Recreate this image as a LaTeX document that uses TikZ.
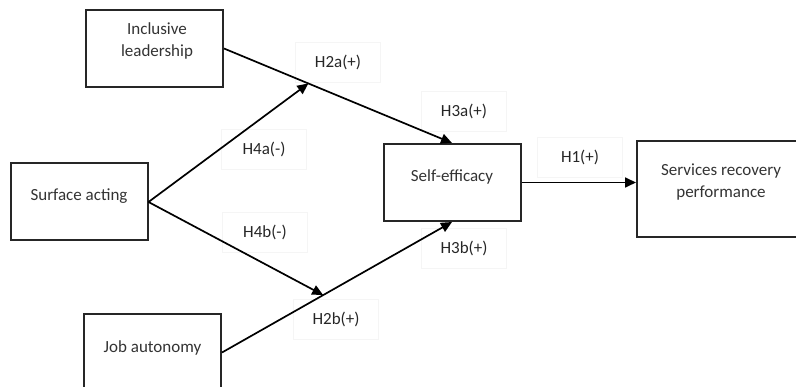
\documentclass[tikz,border=0pt]{standalone}
\usepackage{fontspec}
\setmainfont{Carlito}
\usetikzlibrary{arrows.meta,calc}
\begin{document}
\begin{tikzpicture}[x=1pt,y=-1pt,
        box/.style={draw=black!85,line width=2pt,minimum width=137pt,minimum height=77pt,inner sep=0pt},
        boxtext/.style={align=center,text=black!80,font=\fontsize{17}{22}\selectfont,inner sep=0pt},
        hyp/.style={draw=black!4,minimum width=85pt,minimum height=40pt,text=black!85,font=\fontsize{17}{22}\selectfont},
        arr/.style={line width=1.7pt,-{Triangle[length=11pt,width=10pt]}}]
                \useasboundingbox (0,0) rectangle (796,387);
                \clip (0,0) rectangle (796,387);
                % boxes
                \node[box] (incl) at (154.5,48.5) {};
                \node[box] (surf) at (79,202) {};
                \node[box] (job) at (152.5,352.5) {};
                \node[box] (self) at (452,182.5) {};
                \node[box,minimum width=168pt,minimum height=96pt] (serv) at (721,189) {};
                \node[boxtext] (incltxt) at (157,41) {Inclusive\\leadership};
                \node[boxtext] (surftxt) at (79,196) {Surface acting};
                \node[boxtext] (jobtxt) at (152.5,348) {Job autonomy};
                \node[boxtext] (selftxt) at (452,177) {Self-efficacy};
                \node[boxtext] (servtxt) at (721,182) {Services recovery\\performance};
                % hypotheses
                \node[hyp] (h2alab) at (338,62) {H2a(+)};
                \node[hyp] (h3alab) at (464,111) {H3a(+)};
                \node[hyp] (h4alab) at (264,149) {H4a(-)};
                \node[hyp] (h4blab) at (265,232) {H4b(-)};
                \node[hyp] (h3blab) at (464,248) {H3b(+)};
                \node[hyp] (h2blab) at (336,319) {H2b(+)};
                \node[hyp] (h1lab) at (580,157) {H1(+)};
                % paths
                \coordinate (h2a) at ($(incl.east)!0.37!(self.north)$);
                \coordinate (h2b) at ($(job.east)!0.44!(self.south)$);
                \draw[arr] (incl.east) -- (self.north);
                \draw[arr] (job.east) -- (self.south);
                \draw[arr] (surf.east) -- (h2a);
                \draw[arr] (surf.east) -- (h2b);
                \draw[arr] (self.east) -- (self.east -| serv.west);
\end{tikzpicture}
\end{document}
